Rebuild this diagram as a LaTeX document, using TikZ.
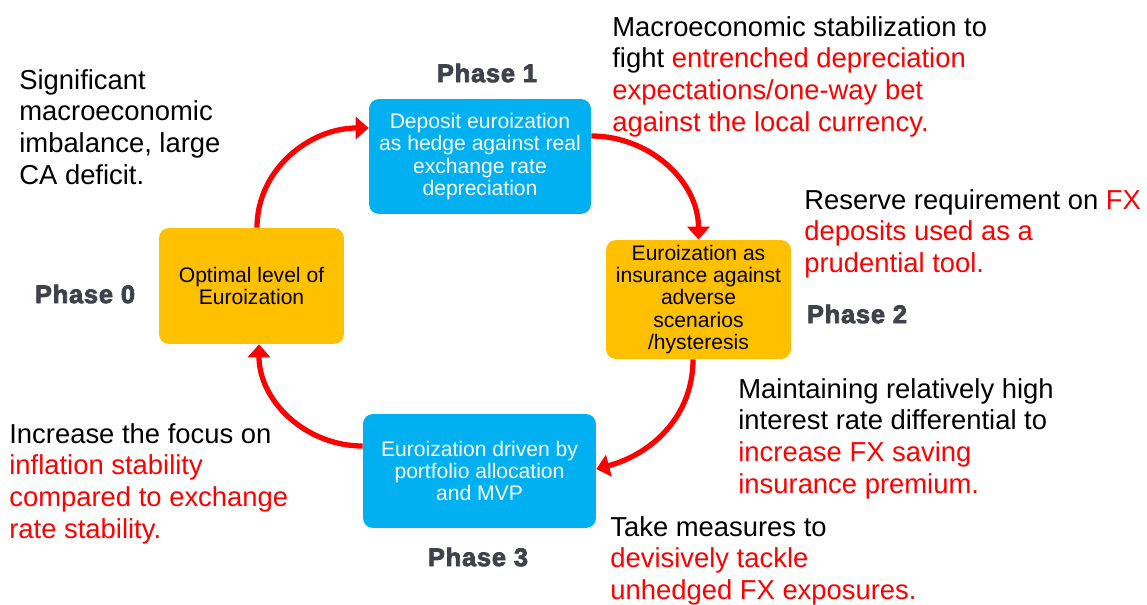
\documentclass[tikz,border=0pt]{standalone}
\usepackage{fontspec}
\setmainfont{Liberation Sans}
\newfontfamily\heavyfont[FakeBold=3,LetterSpace=3]{Liberation Sans Bold}
\usetikzlibrary{arrows.meta}
\definecolor{boxblue}{HTML}{00B0F0}
\definecolor{boxgold}{HTML}{FFC000}
\definecolor{phasegray}{HTML}{3F424B}
\definecolor{hilite}{HTML}{FF0000}

\begin{document}
\begin{tikzpicture}[x=0.02cm, y=-0.02cm,
  every node/.style={font=\fontsize{12}{12.6}\selectfont},
  bluebox/.style={fill=boxblue, text=white, rounded corners=0.2cm, align=center, inner sep=2pt},
  goldbox/.style={fill=boxgold, text=black, rounded corners=0.2cm, align=center, inner sep=2pt},
  phaselbl/.style={font=\heavyfont\fontsize{14.5}{16}\selectfont, text=phasegray},
  note/.style={anchor=north west, inner sep=0, align=left, font=\fontsize{15.6}{18}\selectfont},
  cycle/.style={-{Triangle[length=0.26cm, width=0.44cm]}, line width=3pt, hilite}]
  \useasboundingbox (0,0) rectangle (1147,605);
  % Boxes
  \node[bluebox, minimum width=4.44cm, minimum height=2.3cm] (b1) at (480,156.5)
    {Deposit euroization\\as hedge against real\\exchange rate\\depreciation};
  \node[goldbox, minimum width=3.7cm, minimum height=2.32cm] (b0) at (251.5,286)
    {Optimal level of\\Euroization};
  \node[goldbox, minimum width=3.7cm, minimum height=2.38cm] (b2) at (698.5,299.5)
    {Euroization as\\insurance against\\adverse\\scenarios\\/hysteresis};
  \node[bluebox, minimum width=4.66cm, minimum height=2.28cm] (b3) at (479.5,471)
    {Euroization driven by\\portfolio allocation\\and MVP};
  % Phase labels
  \node[phaselbl] (p0) at (85,294) {Phase 0};
  \node[phaselbl] (p1) at (487,73) {Phase 1};
  \node[phaselbl] (p2) at (857,314) {Phase 2};
  \node[phaselbl] (p3) at (478,557) {Phase 3};
  % Cycle arrows
  \draw[cycle] ([xshift=0.11cm]b0.north) to[out=90, in=180] ([yshift=0.57cm]b1.west);
  \draw[cycle] ([yshift=0.41cm]b1.east) to[out=0, in=90] (b2.north);
  \draw[cycle] ([xshift=-0.11cm]b2.south) to[out=-90, in=15] ([yshift=0.04cm]b3.east);
  \draw[cycle] ([yshift=0.5cm]b3.west) to[out=180, in=-90] ([xshift=0.15cm]b0.south);
  % Side notes
  \node[note] (n0) at (19,69) {Significant\\macroeconomic\\imbalance, large\\CA deficit.};
  \node[note] (n1) at (612,16) {Macroeconomic stabilization to\\fight \textcolor{hilite}{entrenched depreciation}\\\textcolor{hilite}{expectations/one-way bet}\\\textcolor{hilite}{against the local currency.}};
  \node[note] (n2) at (804,189) {Reserve requirement on \textcolor{hilite}{FX}\\\textcolor{hilite}{deposits used as a}\\\textcolor{hilite}{prudential tool.}};
  \node[note] (n3) at (738,378) {Maintaining relatively high\\interest rate differential to\\\textcolor{hilite}{increase FX saving}\\\textcolor{hilite}{insurance premium.}};
  \node[note] (n4) at (610,516) {Take measures to\\\textcolor{hilite}{devisively tackle}\\\textcolor{hilite}{unhedged FX exposures.}};
  \node[note] (n5) at (9,423) {Increase the focus on\\\textcolor{hilite}{inflation stability}\\\textcolor{hilite}{compared to exchange}\\\textcolor{hilite}{rate stability.}};
\end{tikzpicture}
\end{document}
